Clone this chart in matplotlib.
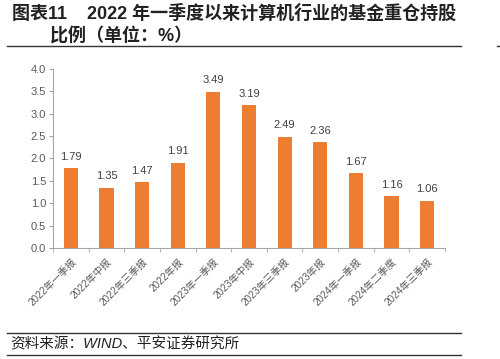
import numpy as np
import matplotlib.pyplot as plt
from matplotlib.lines import Line2D

plt.rcParams['font.family'] = ['Liberation Sans', 'Noto Sans CJK SC', 'DejaVu Sans']

categories = ['2022年一季报', '2022年中报', '2022年三季报', '2022年报',
              '2023年一季报', '2023年中报', '2023年三季报', '2023年报',
              '2024年一季报', '2024年二季度', '2024年三季报']
values = [1.79, 1.35, 1.47, 1.91, 3.49, 3.19, 2.49, 2.36, 1.67, 1.16, 1.06]
yticks = [0.0, 0.5, 1.0, 1.5, 2.0, 2.5, 3.0, 3.5, 4.0]

bar_color = '#ED7D31'
grey = '#595959'

fig = plt.figure(figsize=(5.0, 3.59), dpi=100)
ax = fig.add_axes([0.106, 0.309, 0.784, 0.499])

x = np.arange(len(categories))
ax.bar(x, values, width=0.4, color=bar_color, zorder=2)
for xi, v in zip(x, values):
    ax.text(xi, v + 0.14, f'{v:.2f}', ha='center', va='bottom',
            fontsize=8, color='#404040')

ax.set_xlim(-0.5, len(categories) - 0.5)
ax.set_ylim(0, 4.0)
ax.set_yticks(yticks)
ax.set_yticklabels([f'{t:.1f}' for t in yticks], fontsize=8, color=grey)
ax.set_xticks(x)
ax.set_xticklabels(categories, rotation=45, ha='right', rotation_mode='anchor',
                   fontsize=7.2, color=grey)
ax.set_xticks(np.arange(len(categories) + 1) - 0.5, minor=True)
ax.tick_params(axis='x', which='major', length=0, pad=6)
ax.tick_params(axis='x', which='minor', length=3, color='#a6a6a6', direction='out')
ax.tick_params(axis='y', length=3, color='#a6a6a6', pad=2)

for s in ['top', 'right']:
    ax.spines[s].set_visible(False)
for s in ['left', 'bottom']:
    ax.spines[s].set_color('#a6a6a6')
    ax.spines[s].set_linewidth(0.8)

# title
fig.text(0.024, 0.962, '图表11    2022 年一季度以来计算机行业的基金重仓持股',
         fontsize=13, fontweight='bold', color='#222222', va='center')
fig.text(0.1, 0.9, '比例（单位：%）', fontsize=13, fontweight='bold',
         color='#222222', va='center')

# rules
fig.add_artist(Line2D([0.014, 0.922], [0.872, 0.872], color='#333333', lw=1.0))
fig.add_artist(Line2D([0.994, 0.998], [0.872, 0.872], color='#333333', lw=1.0))
fig.add_artist(Line2D([0.014, 0.922], [0.072, 0.072], color='#333333', lw=1.0))
fig.add_artist(Line2D([0.014, 0.922], [0.011, 0.011], color='#333333', lw=1.0))

fig.text(0.02, 0.041, '资料来源：WIND、平安证券研究所', fontsize=10.5,
         style='italic', color='#222222', va='center')

fig.savefig('out.png', dpi=100)
